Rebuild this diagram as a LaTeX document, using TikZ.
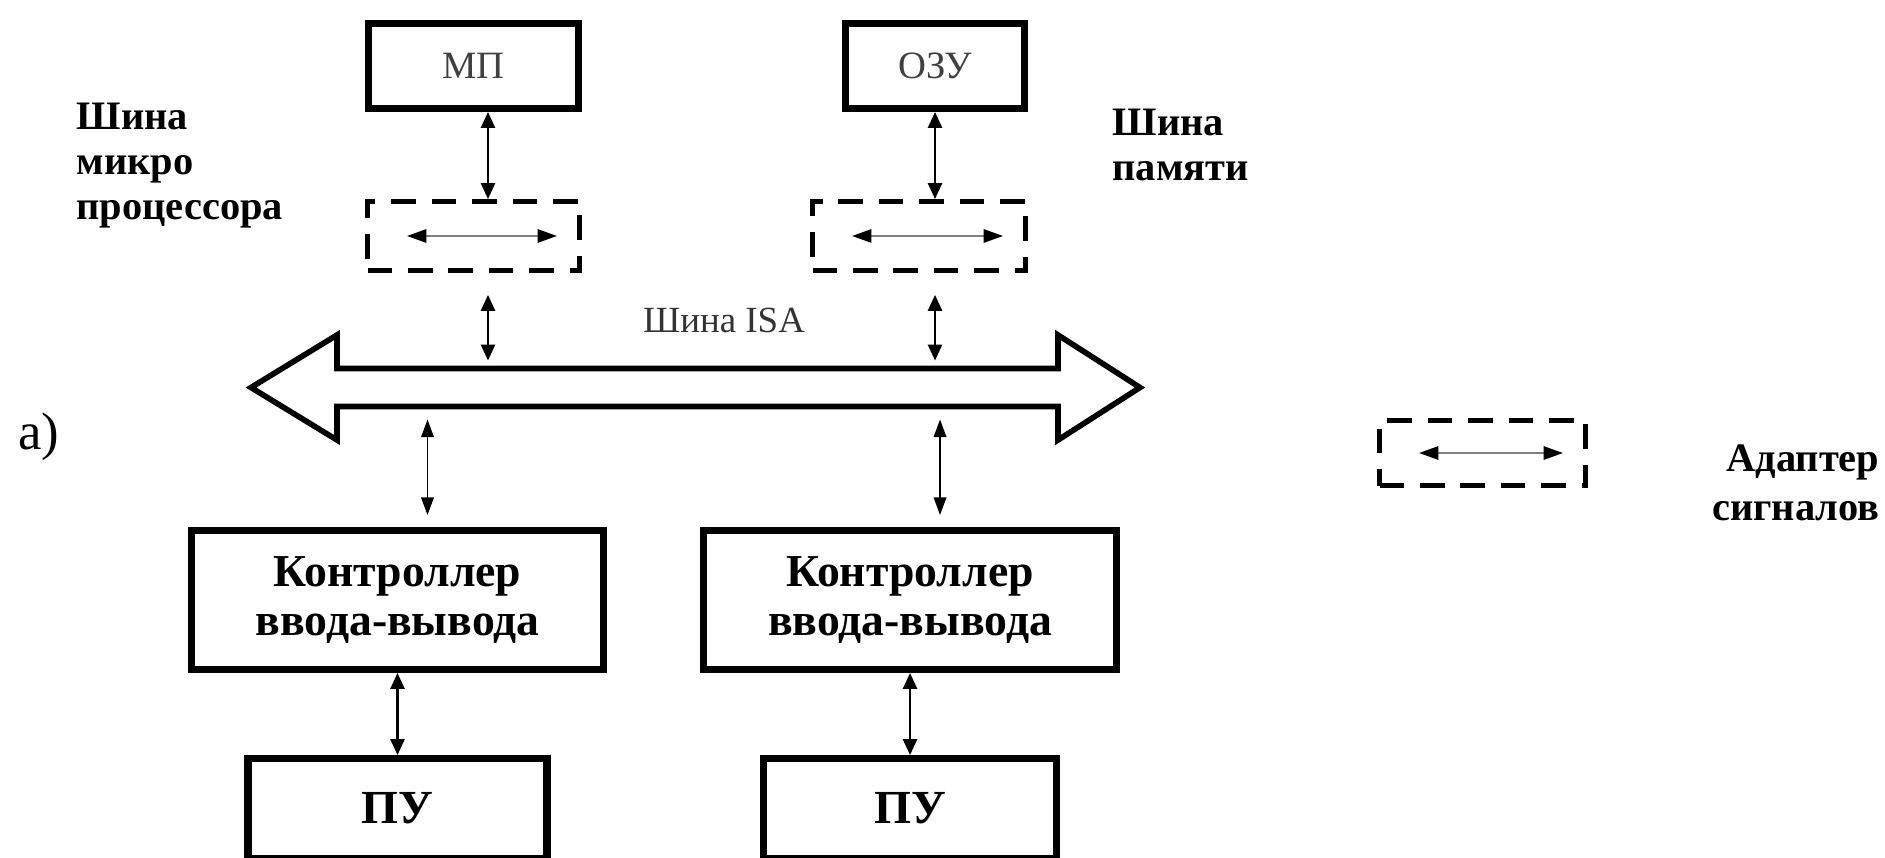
\documentclass[tikz,border=0pt]{standalone}
\usepackage{fontspec}
\setmainfont{Liberation Serif}
\usetikzlibrary{positioning,arrows.meta}

\begin{document}
\begin{tikzpicture}[
  node distance=8mm and 9mm, every node/.style={text=black},
  blk/.style ={draw, line width=2pt, align=center, inner sep=0pt},
  adp/.style ={draw, line width=1.4pt, dash pattern=on 7pt off 4.5pt, inner sep=0pt},
  lbl/.style ={font=\bfseries\fontsize{11.5}{12.8}\selectfont, inner sep=0pt},
  link/.style={{Triangle[length=4.5pt,width=4pt]}-{Triangle[length=4.5pt,width=4pt]}, line width=0.6pt},
  slink/.style={{Triangle[length=5pt,width=3.6pt]}-{Triangle[length=5pt,width=3.6pt]}, line width=0.4pt},
  inner/.style={{Triangle[length=5.5pt,width=3.8pt,color=black]}-{Triangle[length=5.5pt,width=3.8pt,color=black]},
               draw=black!50, line width=0.5pt, shorten <=4.2mm, shorten >=2.5mm},
]
\useasboundingbox (0,0) rectangle (18.85,-8.57);
% top row
\node[blk, minimum width=2.10cm, minimum height=0.85cm, text=black!75,
      font=\fontsize{11}{13}\selectfont] (mp) at (4.735,-0.66) {МП};
\node[blk, minimum width=1.79cm, minimum height=0.85cm, text=black!75,
      font=\fontsize{11}{13}\selectfont] (ozu) at (9.35,-0.66) {ОЗУ};
\node[adp, minimum width=2.12cm, minimum height=0.69cm, below=0.87cm of mp] (ad1) {};
\node[adp, minimum width=2.13cm, minimum height=0.69cm, below=0.87cm of ozu.south east,
      anchor=north east] (ad2) {};
\node[lbl, align=left, anchor=west] (cpubus) at (0.76,-1.66) {Шина\\микро\\процессора};
\node[lbl, align=left, anchor=west] (membus) at (11.12,-1.445) {Шина\\памяти};

% ISA bus
\draw[line width=1.6pt, line join=miter] (2.51,-3.875) -- (3.37,-3.35) -- (3.37,-3.685)
  -- (10.58,-3.685) -- (10.58,-3.35) -- (11.40,-3.875) -- (10.58,-4.40) -- (10.58,-4.065)
  -- (3.37,-4.065) -- (3.37,-4.40) -- cycle;
\coordinate (isaN) at (7,-3.685);
\coordinate (isaS) at (7,-4.065);
\node[font=\fontsize{10.5}{12}\selectfont, text=black!80] (isa) at (7.24,-3.20) {Шина ISA};
\node[font=\fontsize{15}{17}\selectfont] (fig) at (0.39,-4.37) {а)};

% controllers and devices
\node[blk, minimum width=4.12cm, minimum height=1.39cm,
      font=\bfseries\fontsize{13}{14.2}\selectfont] (ctrl1) at (3.975,-6.00) {Контроллер\\ввода-вывода};
\node[blk, minimum width=4.13cm, minimum height=1.39cm, right=0.93cm of ctrl1,
      font=\bfseries\fontsize{13}{14.2}\selectfont] (ctrl2) {Контроллер\\ввода-вывода};
\node[blk, minimum width=2.99cm, minimum height=1.00cm, below=0.82cm of ctrl1,
      font=\bfseries\fontsize{13.5}{15}\selectfont] (pu1) {ПУ};
\node[blk, minimum width=2.93cm, minimum height=1.00cm, below=0.82cm of ctrl2,
      font=\bfseries\fontsize{13.5}{15}\selectfont] (pu2) {ПУ};

% legend
\node[adp, minimum width=2.06cm, minimum height=0.65cm] (leg) at (14.825,-4.53) {};
\node[lbl, align=right, anchor=east, font=\bfseries\fontsize{11.5}{14}\selectfont] (legtxt)
      at (18.80,-4.825) {Адаптер\\сигналов};

% links
\foreach \a in {ad1,ad2,leg} {\draw[inner] (\a.west) -- (\a.east);}
\draw[link] ([xshift=1.45mm]mp.south) -- ([xshift=1.45mm]ad1.north);
\draw[link, shorten <=2.2mm, shorten >=0.8mm] ([xshift=1.45mm]ad1.south) -- ([xshift=1.45mm]ad1.south |- isaN);
\draw[link] (ozu.south) -- (ozu.south |- ad2.north);
\draw[link, shorten <=2.2mm, shorten >=0.8mm] (ozu.south |- ad2.south) -- (ozu.south |- isaN);
\draw[slink, shorten <=1.3mm, shorten >=1.2mm] ([xshift=3mm]ctrl1.north |- isaS) -- ([xshift=3mm]ctrl1.north);
\draw[slink, shorten <=1.3mm, shorten >=1.2mm] ([xshift=3mm]ctrl2.north |- isaS) -- ([xshift=3mm]ctrl2.north);
\draw[link] (ctrl1.south) -- (pu1.north);
\draw[link] (ctrl2.south) -- (pu2.north);
\end{tikzpicture}
\end{document}
